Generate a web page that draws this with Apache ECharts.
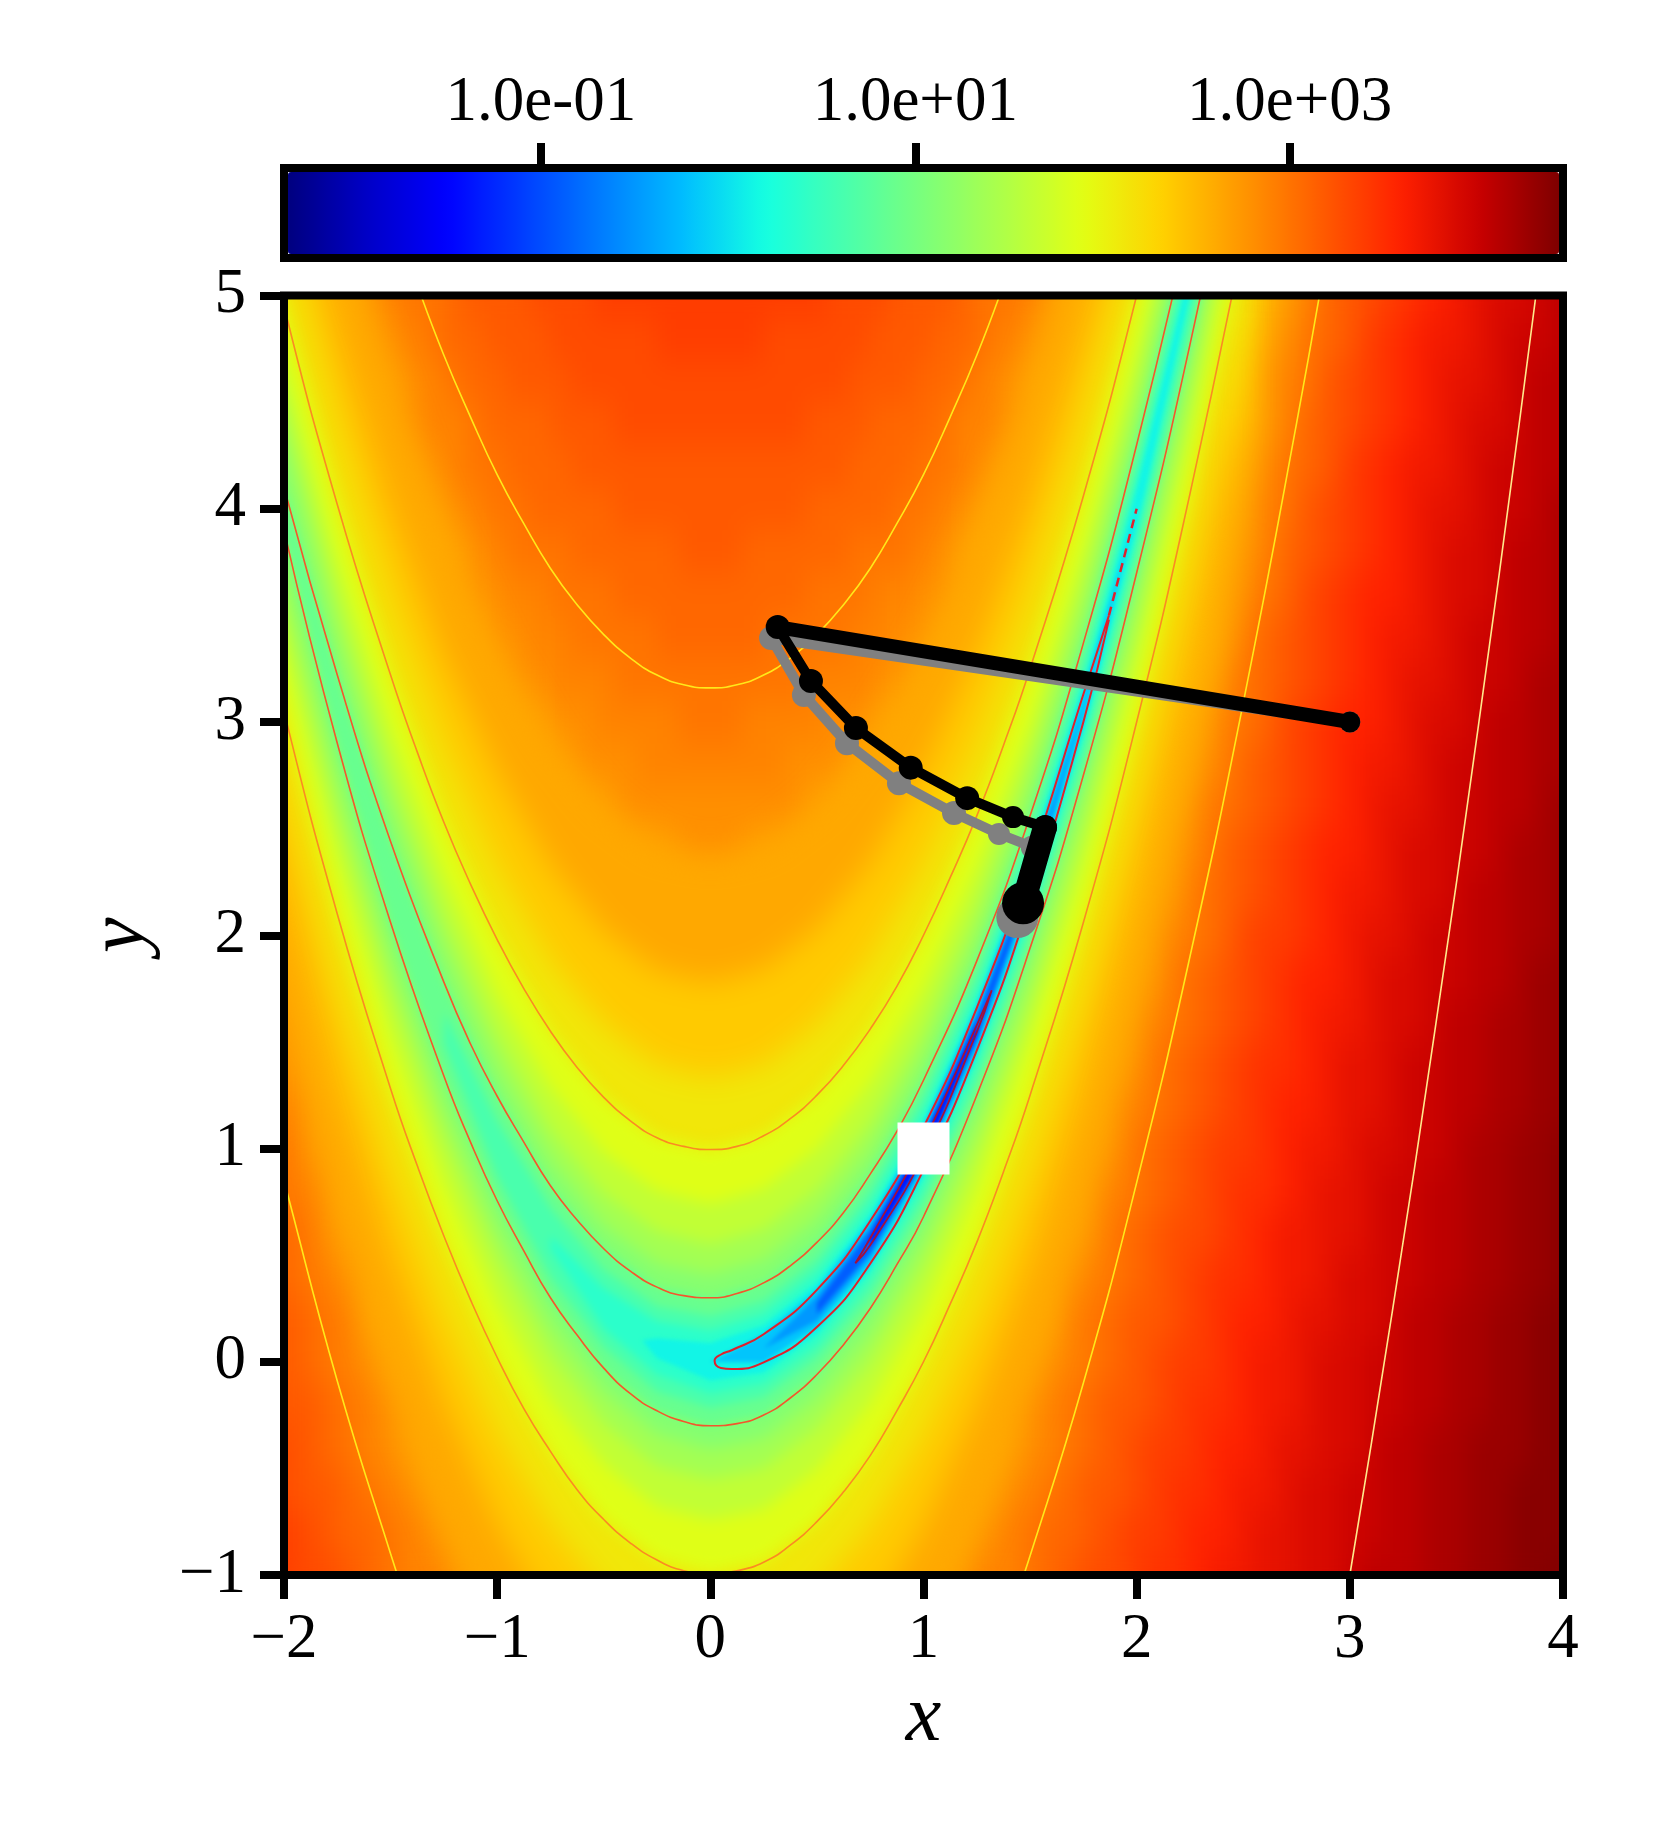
<!DOCTYPE html>
<html>
<head>
<meta charset="utf-8">
<script src="https://cdn.jsdelivr.net/npm/echarts@6/dist/echarts.min.js"></script>
<style>
  body { margin: 0; background: #fff; }
  .layer { position: absolute; left: 0; top: 0; width: 1661px; height: 1827px; }
  .clip { position: absolute; left: 284px; top: 295px; width: 1279px; height: 1280px; overflow: hidden; }
  .inner { position: absolute; left: -284px; top: -295px; width: 1661px; height: 1827px; }
  #heat { filter: url(#soft); }
  #bandsOuter { filter: blur(15px); }
  #bandsWide { filter: blur(8px); }
  #bandsMid { filter: blur(4px); }
  #bandsFine { filter: blur(2px); }
</style>
</head>
<body>
<svg width="0" height="0" style="position:absolute">
  <filter id="soft" x="0" y="0" width="100%" height="100%" color-interpolation-filters="sRGB">
    <feGaussianBlur stdDeviation="12 18"/>
    <feComponentTransfer><feFuncA type="discrete" tableValues="0 1 1 1 1 1 1 1 1 1"/></feComponentTransfer>
  </filter>
</svg>
<div class="clip"><div id="heat" class="inner"></div></div>
<div class="clip"><div id="bandsOuter" class="inner"></div></div>
<div class="clip"><div id="bandsWide" class="inner"></div></div>
<div class="clip"><div id="bandsMid" class="inner"></div></div>
<div class="clip"><div id="bandsFine" class="inner"></div></div>
<div id="main" class="layer"></div>
<script>
// colour table, log10(f) in tenths, rows from y=-1 up to y=5, columns x=-2 to x=4
var xCats = [-2,-1.9,-1.8,-1.7,-1.6,-1.5,-1.4,-1.3,-1.2,-1.1,-1,-0.9,-0.8,-0.7,-0.6,-0.5,-0.4,-0.3,-0.2,-0.1,0,0.1,0.2,0.3,0.4,0.5,0.6,0.7,0.8,0.9,1,1.1,1.2,1.3,1.4,1.5,1.6,1.7,1.8,1.9,2,2.1,2.2,2.3,2.4,2.5,2.6,2.7,2.8,2.9,3,3.1,3.2,3.3,3.4,3.5,3.6,3.7,3.8,3.9,4];
var yCats = [-1,-0.8,-0.6,-0.4,-0.2,0,0.2,0.4,0.6,0.8,1,1.2,1.4,1.6,1.8,2,2.2,2.4,2.6,2.8,3,3.2,3.4,3.6,3.8,4,4.2,4.4,4.6,4.8,5];
var logF = [
[34,33,33,32,31,30,29,29,28,27,26,25,24,23,23,22,21,21,20,20,20,20,20,21,21,22,23,23,24,25,26,27,28,29,29,30,31,32,33,33,34,35,35,36,37,37,38,38,39,39,40,41,41,41,42,42,43,43,44,44,45],
[34,33,32,31,31,30,29,28,27,26,25,24,23,22,21,20,20,19,18,18,18,18,18,19,20,20,21,22,23,24,25,26,27,28,29,30,31,31,32,33,34,34,35,36,36,37,38,38,39,39,40,40,41,41,42,42,43,43,44,44,44],
[33,32,32,31,30,29,28,27,26,25,24,23,22,21,20,19,18,17,16,16,15,16,16,17,18,19,20,21,22,23,24,25,26,27,28,29,30,31,32,32,33,34,35,35,36,37,37,38,39,39,40,40,41,41,42,42,43,43,44,44,44],
[33,32,31,30,29,28,27,26,25,24,23,22,20,19,18,16,15,14,13,12,12,12,13,14,15,16,18,19,20,22,23,24,25,26,27,28,29,30,31,32,33,34,34,35,36,36,37,38,38,39,39,40,41,41,42,42,43,43,43,44,44],
[32,32,31,30,29,28,27,26,24,23,22,20,18,17,15,14,12,10,9,8,7,7,8,9,11,13,15,17,18,20,22,23,24,26,27,28,29,30,31,32,32,33,34,35,35,36,37,37,38,39,39,40,40,41,41,42,42,43,43,44,44],
[32,31,30,29,28,27,26,25,23,22,20,18,16,14,12,9,7,4,2,1,0,-1,-1,1,5,8,11,14,16,18,20,22,23,25,26,27,28,29,30,31,32,33,34,34,35,36,37,37,38,39,39,40,40,41,41,42,42,43,43,44,44],
[32,31,30,29,27,26,25,23,22,20,18,16,14,11,7,4,3,5,6,7,7,6,5,2,-3,-3,4,9,13,16,18,20,22,23,25,26,27,29,30,31,32,32,33,34,35,36,36,37,38,38,39,39,40,41,41,42,42,43,43,44,44],
[31,30,29,28,27,25,24,22,20,18,16,13,10,6,4,7,9,11,12,12,12,12,11,10,8,4,-5,0,8,12,16,18,20,22,24,25,27,28,29,30,31,32,33,34,35,35,36,37,37,38,39,39,40,40,41,41,42,42,43,43,44],
[31,30,28,27,26,24,23,21,19,16,13,9,5,6,9,12,13,14,15,16,16,15,15,14,13,11,8,1,-7,6,12,16,18,21,23,24,26,27,28,30,31,32,33,33,34,35,36,37,37,38,38,39,40,40,41,41,42,42,43,43,44],
[30,29,28,26,25,23,21,19,17,13,9,6,8,11,13,15,16,17,18,18,18,18,18,17,16,15,13,10,4,-10,6,12,16,19,21,23,25,26,28,29,30,31,32,33,34,35,35,36,37,38,38,39,40,40,41,41,42,42,43,43,44],
[30,28,27,26,24,22,20,17,14,9,6,9,12,15,16,18,19,19,20,20,20,20,20,19,19,18,16,14,11,6,-15,6,13,17,20,22,24,26,27,28,30,31,32,33,34,34,35,36,37,37,38,39,39,40,40,41,42,42,43,43,44],
[29,28,26,25,23,21,18,15,10,6,9,13,15,17,19,20,20,21,21,22,22,22,21,21,20,20,18,17,15,12,6,-10,8,14,18,20,23,25,26,28,29,30,31,32,33,34,35,36,36,37,38,38,39,40,40,41,41,42,42,43,43],
[28,27,25,23,21,19,16,11,7,9,13,16,18,19,20,21,22,22,23,23,23,23,23,22,22,21,20,19,18,15,12,6,-7,9,15,19,21,23,25,27,28,30,31,32,33,34,35,35,36,37,38,38,39,40,40,41,41,42,42,43,43],
[28,26,24,22,20,17,13,8,9,13,16,18,20,21,22,23,23,24,24,24,24,24,24,24,23,23,22,21,20,18,16,12,4,0,11,16,20,22,24,26,28,29,30,31,32,33,34,35,36,37,37,38,39,39,40,41,41,42,42,43,43],
[27,25,23,21,18,14,9,8,12,15,18,20,21,22,23,24,24,25,25,25,25,25,25,25,24,24,23,22,21,20,18,15,11,1,4,13,18,21,23,25,27,28,30,31,32,33,34,35,36,36,37,38,39,39,40,40,41,41,42,43,43],
[26,24,22,19,16,11,8,12,16,18,20,21,23,24,24,25,25,26,26,26,26,26,26,26,25,25,24,24,23,21,20,18,15,10,-5,8,15,19,22,24,26,28,29,30,31,33,34,34,35,36,37,38,38,39,40,40,41,41,42,42,43],
[25,23,20,17,13,8,11,14,18,20,22,23,24,25,25,26,26,26,27,27,27,27,27,26,26,26,25,25,24,23,22,20,18,14,8,-3,11,17,20,23,25,27,28,30,31,32,33,34,35,36,37,37,38,39,39,40,41,41,42,42,43],
[24,22,18,15,10,9,14,17,20,22,23,24,25,26,26,27,27,27,27,28,28,28,27,27,27,27,26,26,25,24,23,22,20,17,13,4,5,14,18,22,24,26,28,29,31,32,33,34,35,36,36,37,38,39,39,40,40,41,42,42,43],
[23,20,16,12,8,13,16,19,21,23,24,25,26,26,27,27,28,28,28,28,28,28,28,28,28,27,27,26,26,25,24,23,21,19,16,11,-3,10,16,20,23,25,27,29,30,31,32,33,34,35,36,37,38,38,39,40,40,41,41,42,43],
[22,18,13,9,11,15,18,21,23,24,25,26,27,27,28,28,28,29,29,29,29,29,29,29,28,28,28,27,27,26,25,24,23,21,18,15,8,1,13,18,22,24,26,28,29,31,32,33,34,35,36,37,37,38,39,40,40,41,41,42,42],
[20,16,11,9,14,18,20,22,24,25,26,27,27,28,28,29,29,29,29,30,30,30,29,29,29,29,28,28,27,27,26,25,24,22,20,18,13,2,8,16,20,23,25,27,29,30,31,33,34,35,36,36,37,38,39,39,40,41,41,42,42],
[18,12,9,12,16,20,22,24,25,26,27,28,28,29,29,29,30,30,30,30,30,30,30,30,30,29,29,29,28,28,27,26,25,24,22,20,16,10,-1,12,18,22,24,26,28,30,31,32,33,34,35,36,37,38,38,39,40,40,41,42,42],
[16,11,10,14,18,21,23,25,26,27,28,28,29,29,30,30,30,30,31,31,31,31,31,30,30,30,30,29,29,28,28,27,26,25,23,21,18,14,5,7,16,20,23,25,27,29,31,32,33,34,35,36,37,37,38,39,40,40,41,41,42],
[14,9,13,17,20,23,24,26,27,28,28,29,29,30,30,30,31,31,31,31,31,31,31,31,31,30,30,30,29,29,28,28,27,26,24,23,20,17,11,-1,12,18,22,24,27,28,30,31,33,34,35,36,36,37,38,39,39,40,41,41,42],
[11,11,16,19,22,24,25,26,27,28,29,30,30,30,31,31,31,31,31,32,32,32,31,31,31,31,31,30,30,30,29,28,27,26,25,24,22,19,15,6,7,16,20,23,26,28,29,31,32,33,34,35,36,37,38,39,39,40,41,41,42],
[10,13,18,21,23,25,26,27,28,29,30,30,31,31,31,31,32,32,32,32,32,32,32,32,32,31,31,31,31,30,30,29,28,27,26,25,23,21,18,12,0,12,18,22,25,27,29,30,32,33,34,35,36,37,38,38,39,40,40,41,42],
[11,16,20,22,24,26,27,28,29,30,30,31,31,31,32,32,32,32,32,32,32,32,32,32,32,32,32,31,31,31,30,30,29,28,27,26,24,22,20,15,7,7,16,21,24,26,28,30,31,32,34,35,36,37,37,38,39,40,40,41,41],
[14,18,21,24,25,27,28,29,29,30,31,31,31,32,32,32,33,33,33,33,33,33,33,33,33,32,32,32,31,31,31,30,29,29,28,27,25,24,21,18,12,1,13,19,23,25,27,29,31,32,33,34,35,36,37,38,39,39,40,41,41],
[16,20,23,25,26,27,28,29,30,31,31,32,32,32,33,33,33,33,33,33,33,33,33,33,33,33,33,32,32,32,31,31,30,29,28,27,26,25,23,20,16,7,8,17,21,24,27,29,30,32,33,34,35,36,37,38,38,39,40,41,41],
[18,22,24,26,27,28,29,30,31,31,32,32,32,33,33,33,33,33,34,34,34,34,34,33,33,33,33,33,32,32,32,31,31,30,29,28,27,26,24,22,18,12,2,14,20,23,26,28,30,31,32,34,35,36,37,37,38,39,40,40,41],
[20,23,25,26,28,29,30,30,31,32,32,32,33,33,33,34,34,34,34,34,34,34,34,34,34,34,33,33,33,32,32,32,31,30,30,29,28,26,25,23,20,15,5,9,18,22,25,27,29,31,32,33,34,35,36,37,38,39,39,40,41]
];
var jet = ['#00007f','#0000c7','#0000ff','#0040ff','#0080ff','#00bfff','#15ffe1','#48ffae','#7bff7b','#aeff48','#e2ff14','#ffd100','#ff9700','#ff5c00','#ff2100','#c80000','#7f0000'];

// valley levels, same x for all, each level starts at its own index
var valleyXs = [-2.25,-2,-1.75,-1.5,-1.25,-1,-0.75,-0.5,-0.25,0,0.25,0.5,0.75,1,1.25,1.5,1.75,2,2.25,2.5];
var up275 = [7.41,6.35,5.42,4.61,3.92,3.36,2.92,2.62,2.43,2.37,2.43,2.62,2.93,3.37,3.93,4.62,5.43,6.37,7.43,8.62];
var lo275 = [2.71,1.65,0.7,-0.11,-0.8,-1.36,-1.8,-2.1,-2.3,-2.37,-2.31,-2.12,-1.81,-1.37,-0.81,-0.12,0.69,1.63,2.69,3.88];
var up250 = [6.81,5.75,4.82,4.01,3.32,2.77,2.33,2.02,1.83,1.775,1.84,2.03,2.34,2.78,3.34,4.03,4.84,5.77,6.83,8.02];
var lo250 = [3.31,2.25,1.3,0.49,-0.2,-0.77,-1.2,-1.5,-1.7,-1.775,-1.72,-1.53,-1.22,-0.78,-0.21,0.47,1.28,2.23,3.29,4.47];
var up225 = [6.35,5.3,4.37,3.56,2.88,2.32,1.88,1.58,1.39,1.33,1.39,1.58,1.89,2.33,2.89,3.58,4.39,5.33,6.39,7.58];
var lo225 = [3.77,2.7,1.75,0.94,0.25,-0.32,-0.76,-1.08,-1.27,-1.33,-1.27,-1.08,-0.77,-0.33,0.23,0.92,1.73,2.67,3.73,4.92];
var up200 = [6.01,4.95,4.02,3.22,2.53,1.98,1.55,1.24,1.05,0.995,1.06,1.25,1.56,2,2.56,3.25,4.06,5,6.05,7.24];
var lo200 = [4.11,3.05,2.1,1.28,0.59,0.02,-0.42,-0.74,-0.93,-0.995,-0.94,-0.75,-0.44,0,0.56,1.25,2.06,3,4.07,5.26];
var up175 = [5.74,4.69,3.76,2.96,2.28,1.72,1.29,0.98,0.8,0.74,0.81,1,1.31,1.75,2.31,2.98,3.81,4.74,5.8,6.98];
var lo175 = [4.38,3.31,2.36,1.54,0.85,0.28,-0.17,-0.48,-0.68,-0.74,-0.69,-0.5,-0.19,0.25,0.82,1.52,2.31,3.26,4.32,5.52];
var up150 = [5.52,4.48,3.55,2.75,2.08,1.53,1.09,0.79,0.61,0.55,0.62,0.81,1.12,1.56,2.12,2.81,3.62,4.55,5.61,6.79];
var lo150 = [4.6,3.53,2.57,1.75,1.05,0.48,0.03,-0.29,-0.49,-0.55,-0.5,-0.31,0,0.44,1,1.69,2.5,3.45,4.51,5.71];
var up125 = [5.33,4.3,3.38,2.59,1.92,1.37,0.94,0.64,0.46,0.41,0.48,0.67,0.98,1.42,1.98,2.67,3.48,4.41,5.46,6.64];
var lo125 = [4.79,3.7,2.74,1.91,1.2,0.63,0.18,-0.14,-0.34,-0.41,-0.36,-0.17,0.14,0.58,1.14,1.83,2.64,3.59,4.66,5.86];
var up100 = [4.1,3.22,2.44,1.78,1.25,0.82,0.53,0.35,0.3,0.37,0.56,0.88,1.32,1.88,2.56,3.37,4.3,5.35,6.53];
var lo100 = [3.9,2.9,2.06,1.34,0.76,0.3,-0.03,-0.23,-0.3,-0.25,-0.06,0.25,0.68,1.25,1.94,2.75,3.7,4.77,5.97];
var up075 = [1.64,1.13,0.72,0.43,0.26,0.215,0.285,0.48,0.8,1.24,1.8,2.48,3.29,4.22,5.26,6.43];
var lo075 = [1.49,0.87,0.4,0.07,-0.14,-0.215,-0.165,0.02,0.32,0.76,1.32,2.02,2.84,3.78,4.86,6.07];
var up050 = [0.59,0.345,0.19,0.147,0.22,0.42,0.74,1.18,1.74,2.42,3.22,4.15,5.19,6.35];
var lo050 = [0.53,0.155,-0.06,-0.147,-0.1,0.08,0.39,0.82,1.39,2.08,2.9,3.85,4.93,6.15];
var tip025 = [-0.32,0.1];
var up025 = [0.11,0.088,0.17,0.37,0.69,1.13,1.69,2.37,3.17,4.09,5.11];
var lo025 = [0.016,-0.088,-0.05,0.13,0.43,0.87,1.43,2.13,2.95,3.91,5.02];
var up000 = [0,0.129,0.337,0.66,1.1,1.66,2.34,3.13,4];
var lo000 = [0,-0.003,0.163,0.46,0.9,1.46,2.16,3,4];
var upM25 = [0.0625,0.306,0.633,1.075,1.633,2.306,3.06];
var loM25 = [0.0625,0.194,0.491,0.925,1.491,2.194,3.06];
var upM50 = [0.276,0.612,1.056,1.612,2.276];
var loM50 = [0.224,0.512,0.944,1.512,2.224];
var upM100 = [0.579,1.032,1.579];
var loM100 = [0.546,0.968,1.546];
var bandsOuter = [
  {up: up275, lo: lo275, start: 0, v: 26.25},
  {up: up250, lo: lo250, start: 0, v: 23.75},
  {up: up225, lo: lo225, start: 0, v: 21.25}
];
var bandsWide = [
  {up: up200, lo: lo200, start: 0, v: 18.75},
  {up: up175, lo: lo175, start: 0, v: 16.25},
  {up: up150, lo: lo150, start: 0, v: 13.75},
  {up: up125, lo: lo125, start: 0, v: 11.25}
];
var bandsMid = [
  {up: up100, lo: lo100, start: 1, v: 8.75},
  {up: up075, lo: lo075, start: 4, v: 6.25},
  {up: up050, lo: lo050, start: 6, v: 3.75}
];
var bandsFine = [
  {up: up025, lo: lo025, start: 8, v: 1.25, tip: tip025},
  {up: up000, lo: lo000, start: 9, v: -2},
  {up: upM25, lo: loM25, start: 10, v: -5},
  {up: upM50, lo: loM50, start: 11, v: -9},
  {up: upM100, lo: loM100, start: 12, v: -15}
];

// contour lines at f = 0.1, 1, 10, 100, 1000, 10000
var contourM1 = [[0.68,0.462],[0.75,0.579],[1,1.032],[1.25,1.579],[1.32,1.742],[1.25,1.546],[1,0.968],[0.75,0.546],[0.68,0.462]];
var contour0 = [[1.87,3.5],[1.75,3.13],[1.5,2.34],[1.25,1.66],[1,1.1],[0.75,0.66],[0.5,0.337],[0.25,0.129],[0.1,0.054],[0.05,0.034],[0.02,0.005],[0.05,-0.029],[0.1,-0.034],[0.25,-0.003],[0.5,0.163],[0.75,0.46],[1,0.9],[1.25,1.46],[1.5,2.16],[1.75,3],[1.87,3.48]];
var contour0Tail = [[1.87,3.5],[2,4]];
var contour1Top = [[-2,4.1],[-1.75,3.22],[-1.5,2.44],[-1.25,1.78],[-1.125,1.49],[-1,1.245],[-0.875,1.03],[-0.75,0.825],[-0.625,0.665],[-0.5,0.53],[-0.375,0.425],[-0.25,0.35],[-0.125,0.31],[0,0.3],[0.125,0.32],[0.25,0.37],[0.375,0.45],[0.5,0.56],[0.625,0.7],[0.75,0.88],[0.875,1.08],[1,1.32],[1.25,1.88],[1.5,2.56],[1.75,3.37],[2,4.3],[2.25,5.35]];
var contour1Low = [[-2,3.9],[-1.75,2.9],[-1.5,2.06],[-1.25,1.34],[-1.125,1.03],[-1,0.755],[-0.875,0.52],[-0.75,0.3],[-0.625,0.125],[-0.5,-0.03],[-0.375,-0.15],[-0.25,-0.23],[-0.125,-0.28],[0,-0.3],[0.125,-0.29],[0.25,-0.25],[0.375,-0.17],[0.5,-0.06],[0.625,0.08],[0.75,0.25],[0.875,0.455],[1,0.68],[1.25,1.25],[1.5,1.94],[1.75,2.75],[2,3.7],[2.25,4.77],[2.5,5.97]];
var contour2Top = [[-2.25,6.01],[-2,4.95],[-1.75,4.02],[-1.5,3.22],[-1.375,2.86],[-1.25,2.53],[-1.125,2.24],[-1,1.98],[-0.875,1.75],[-0.75,1.55],[-0.625,1.38],[-0.5,1.24],[-0.375,1.13],[-0.25,1.05],[-0.125,1.01],[0,0.995],[0.125,1.01],[0.25,1.06],[0.375,1.14],[0.5,1.25],[0.625,1.39],[0.75,1.56],[0.875,1.76],[1,2],[1.125,2.27],[1.25,2.56],[1.375,2.89],[1.5,3.25],[1.75,4.06],[2,5],[2.25,6.05]];
var contour2Low = [[-2.25,4.11],[-2,3.05],[-1.75,2.1],[-1.5,1.28],[-1.375,0.92],[-1.25,0.59],[-1.125,0.29],[-1,0.02],[-0.875,-0.22],[-0.75,-0.42],[-0.625,-0.6],[-0.5,-0.74],[-0.375,-0.85],[-0.25,-0.93],[-0.125,-0.98],[0,-0.995],[0.125,-0.98],[0.25,-0.94],[0.375,-0.86],[0.5,-0.75],[0.625,-0.61],[0.75,-0.44],[0.875,-0.23],[1,0],[1.125,0.27],[1.25,0.56],[1.375,0.89],[1.5,1.25],[1.75,2.06],[2,3],[2.25,4.07],[2.5,5.26]];
var contour3Top = [[-1.5,5.41],[-1.375,5.05],[-1.25,4.72],[-1.125,4.43],[-1,4.16],[-0.875,3.93],[-0.75,3.72],[-0.625,3.55],[-0.5,3.41],[-0.375,3.3],[-0.25,3.22],[-0.125,3.175],[0,3.16],[0.125,3.175],[0.25,3.22],[0.375,3.3],[0.5,3.41],[0.625,3.55],[0.75,3.72],[0.875,3.93],[1,4.16],[1.125,4.43],[1.25,4.72],[1.375,5.05],[1.5,5.41]];
var contour3Right = [[1.4,-1.2],[1.5,-0.91],[1.75,-0.1],[2,0.84],[2.25,1.9],[2.5,3.09],[2.75,4.4],[2.9,5.25]];
var contour3Left = [[-2.05,1.04],[-2,0.85],[-1.75,-0.09],[-1.5,-0.9],[-1.4,-1.2]];
var contour4 = [[2.9,-1.6],[3,-1],[3.2,0.24],[3.4,1.56],[3.6,2.96],[3.8,4.44],[3.9,5.21]];

// the two optimisation runs
var blackPath = [[3,3],[0.316,3.445],[0.472,3.192],[0.683,2.972],[0.94,2.786],[1.205,2.643],[1.42,2.554],[1.57,2.507],[1.467,2.15]];
var greyPath = [[3,3],[0.285,3.394],[0.439,3.127],[0.641,2.9],[0.885,2.713],[1.143,2.573],[1.354,2.475],[1.513,2.413],[1.44,2.085]];
var blackWidths = [14,10,10,10,10,10,10,24];
var greyWidths = [11,10,10,10,10,10,10,6];
var dotSizes = [21,24,24,24,24,24,22,24,42];
var optimum = [[1,1]];

var cbTicks = [-1,1,3];
var cbLabels = ['1.0e-01','1.0e+01','1.0e+03'];
var cbMin = -2.372, cbMax = 4.46;

var serif = '"Liberation Serif", serif';

// blurred colour table
var heatData = [];
for (var r = 0; r < logF.length; r++) {
  for (var c = 0; c < logF[r].length; c++) {
    heatData.push([c, r, logF[r][c]]);
  }
}
var heatChart = echarts.init(document.getElementById('heat'));
heatChart.setOption({
  animation: false,
  grid: {left: 273.34, top: 274.17, width: 1300.32, height: 1322.15, outerBoundsMode: 'none'},
  xAxis: {type: 'category', data: xCats, show: false},
  yAxis: {type: 'category', data: yCats, show: false},
  visualMap: {show: false, min: cbMin * 10, max: cbMax * 10, dimension: 2, inRange: {color: jet}},
  series: [{type: 'heatmap', data: heatData, progressive: 0}]
});

var plotGrid = {left: 284, top: 295.5, width: 1279, height: 1279.5, outerBoundsMode: 'none'};

// valley levels, softened by their own layer
function drawBands(id, list) {
  var chart = echarts.init(document.getElementById(id));
  chart.setOption({
    animation: false,
    grid: plotGrid,
    xAxis: {type: 'value', min: -2, max: 4, show: false},
    yAxis: {type: 'value', min: -1, max: 5, show: false},
    visualMap: {show: false, min: cbMin * 10, max: cbMax * 10, dimension: 0, inRange: {color: jet}},
    series: [{
      type: 'custom',
      clip: false,
      data: list.map(function (b) { return [b.v]; }),
      encode: {x: [], y: []},
      renderItem: function (params, api) {
        var b = list[params.dataIndex];
        var pts = [];
        if (b.tip) pts.push(api.coord(b.tip));
        b.up.forEach(function (y, i) { pts.push(api.coord([valleyXs[b.start + i], y])); });
        for (var i = b.lo.length - 1; i >= 0; i--) pts.push(api.coord([valleyXs[b.start + i], b.lo[i]]));
        return {type: 'polygon', shape: {points: pts}, style: {fill: api.visual('color')}};
      }
    }]
  });
}
drawBands('bandsOuter', bandsOuter);
drawBands('bandsWide', bandsWide);
drawBands('bandsMid', bandsMid);
drawBands('bandsFine', bandsFine);

function lineOf(data, color, width, extra) {
  var s = {type: 'line', data: data, symbol: 'none', smooth: true, silent: true, z: 3,
    lineStyle: {color: color, width: width}};
  return Object.assign(s, extra || {});
}
var series = [
  lineOf(contour2Top, '#fb8a22', 1.6),
  lineOf(contour2Low, '#fb8a22', 1.6),
  lineOf(contour1Top, '#f4562c', 1.6),
  lineOf(contour1Low, '#f4562c', 1.6),
  lineOf(contour0, '#e0202c', 2),
  lineOf(contour0Tail, '#e0202c', 2, {lineStyle: {color: '#e0202c', width: 2.5, type: [9, 6]}}),
  lineOf(contourM1, '#a3103c', 1.8),
  lineOf(contour3Top, '#ffe81a', 1.6),
  lineOf(contour3Right, '#ffe81a', 1.6),
  lineOf(contour3Left, '#ffe81a', 1.6),
  lineOf(contour4, '#ffe98c', 1.6)
];
[[greyPath, '#808080', 4, greyWidths], [blackPath, '#000000', 6, blackWidths]].forEach(function (run) {
  var path = run[0], color = run[1], z = run[2];
  run[3].forEach(function (w, i) {
    series.push({type: 'line', data: [path[i], path[i + 1]], symbol: 'none', silent: true, z: z,
      lineStyle: {color: color, width: w, cap: 'round'}});
  });
  series.push({type: 'scatter', data: path, silent: true, z: z + 1,
    symbolSize: function (v, p) { return dotSizes[p.dataIndex]; },
    itemStyle: {color: color, opacity: 1}});
});
series.push({type: 'scatter', data: optimum, symbol: 'rect', symbolSize: 52, silent: true, z: 8,
  itemStyle: {color: '#ffffff', opacity: 1}});

function tickText(v) { return String(v).replace('-', '\u2212'); }
var mainChart = echarts.init(document.getElementById('main'));
mainChart.setOption({
  animation: false,
  backgroundColor: 'transparent',
  grid: [
    Object.assign({show: true, z: 10, borderWidth: 8, borderColor: '#000', backgroundColor: 'transparent'}, plotGrid),
    {show: true, z: 10, left: 284, top: 168, width: 1279, height: 90, borderWidth: 8, borderColor: '#000',
      backgroundColor: 'transparent', outerBoundsMode: 'none'}
  ],
  xAxis: [
    {type: 'value', gridIndex: 0, min: -2, max: 4, interval: 1, splitLine: {show: false}, z: 11,
      axisLine: {show: false, onZero: false},
      axisTick: {show: true, length: 24, lineStyle: {color: '#000', width: 8}},
      axisLabel: {fontFamily: serif, fontSize: 63, color: '#000', margin: 34, formatter: tickText, showMinLabel: true, showMaxLabel: true},
      name: 'x', nameLocation: 'center', nameGap: 104,
      nameTextStyle: {fontFamily: serif, fontStyle: 'italic', fontSize: 80, color: '#000'}},
    {type: 'value', gridIndex: 1, position: 'top', min: cbMin, max: cbMax, splitLine: {show: false}, z: 11,
      axisLine: {show: false, onZero: false},
      axisTick: {show: true, length: 25, customValues: cbTicks, lineStyle: {color: '#000', width: 8}},
      axisLabel: {fontFamily: serif, fontSize: 63, color: '#000', margin: 33, customValues: cbTicks,
        formatter: function (v) { return cbLabels[cbTicks.indexOf(v)]; }}}
  ],
  yAxis: [
    {type: 'value', gridIndex: 0, min: -1, max: 5, interval: 1, splitLine: {show: false}, z: 11,
      axisLine: {show: false, onZero: false},
      axisTick: {show: true, length: 24, lineStyle: {color: '#000', width: 8}},
      axisLabel: {fontFamily: serif, fontSize: 63, color: '#000', margin: 38, formatter: tickText, showMinLabel: true, showMaxLabel: true},
      name: 'y', nameLocation: 'center', nameGap: 122,
      nameTextStyle: {fontFamily: serif, fontStyle: 'italic', fontSize: 80, color: '#000'}},
    {type: 'value', gridIndex: 1, min: 0, max: 1, show: false}
  ],
  visualMap: {
    type: 'continuous', seriesIndex: [], orient: 'horizontal', left: 288, top: 172,
    itemHeight: 1271, itemWidth: 82, padding: 0, text: null, showLabel: false, calculable: false, hoverLink: false,
    min: cbMin, max: cbMax, inRange: {color: jet}
  },
  series: series
});
</script>
</body>
</html>
